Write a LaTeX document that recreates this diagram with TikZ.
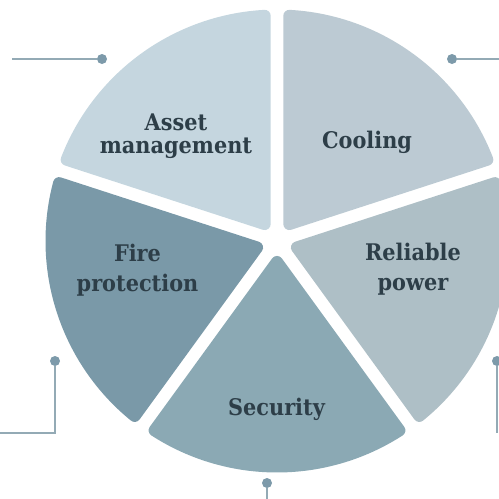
\documentclass[tikz,border=0pt]{standalone}
\usepackage{fontspec}
\setmainfont[FakeStretch=0.91]{DejaVu Serif}
\definecolor{assetc}{HTML}{C5D6DF}
\definecolor{coolc}{HTML}{BCCAD3}
\definecolor{relc}{HTML}{AEBFC6}
\definecolor{secc}{HTML}{8BA9B4}
\definecolor{firec}{HTML}{7A99A8}
\definecolor{txt}{HTML}{2D3E48}
\definecolor{dotc}{HTML}{7D9AAA}
\definecolor{linec}{HTML}{93AAB5}
\begin{document}
\begin{tikzpicture}[x=1pt,y=1pt,
  seg/.style={fill=#1,draw=#1,line width=12pt,line join=round},
  lbl/.style={text=txt,font=\bfseries\fontsize{22.9}{23.3}\selectfont,align=center,inner sep=0pt,anchor=base},
  lblwide/.style={lbl,font=\bfseries\fontsize{22.9}{29.2}\selectfont},
  dot/.style={circle,fill=dotc,inner sep=0pt,minimum size=10pt},
  conn/.style={draw=linec,line width=2pt}]
\useasboundingbox (0,0) rectangle (499,-499);
\begin{scope}[shift={(277,-241)}]
  \path[seg=assetc] (126:20.93) -- (93.127:225.5) arc[start angle=93.127,end angle=158.873,radius=225.5pt] -- cycle;
  \path[seg=firec] (198:20.93) -- (165.127:225.5) arc[start angle=165.127,end angle=230.873,radius=225.5pt] -- cycle;
  \path[seg=secc] (270:20.93) -- (237.127:225.5) arc[start angle=237.127,end angle=302.873,radius=225.5pt] -- cycle;
  \path[seg=relc] (342:20.93) -- (309.127:225.5) arc[start angle=309.127,end angle=374.873,radius=225.5pt] -- cycle;
  \path[seg=coolc] (54:20.93) -- (21.127:225.5) arc[start angle=21.127,end angle=86.873,radius=225.5pt] -- cycle;
\end{scope}
\node[lbl] (asset) at (176,-153.3) {Asset\\management};
\node[lbl] (cooling) at (367,-148) {Cooling};
\node[lblwide] (reliable) at (413,-290) {Reliable\\power};
\node[lblwide] (fire) at (137.5,-291) {Fire\\protection};
\node[lbl] (security) at (276.5,-415) {Security};
\node[dot] (d1) at (102,-59) {};
\coordinate (e1) at (12,-59);
\draw[conn] (d1) -- (e1);
\node[dot] (d2) at (452,-59) {};
\coordinate (e2) at (499,-59);
\draw[conn] (d2) -- (e2);
\node[dot] (d3) at (55,-361) {};
\coordinate (e3) at (0,-433);
\draw[conn] (d3) |- (e3);
\node[dot] (d4) at (267,-483) {};
\coordinate (e4) at (267,-499);
\draw[conn] (d4) -- (e4);
\node[dot] (d5) at (497,-361) {};
\coordinate (e5) at (497,-433);
\draw[conn] (d5) -- (e5);
\end{tikzpicture}
\end{document}
